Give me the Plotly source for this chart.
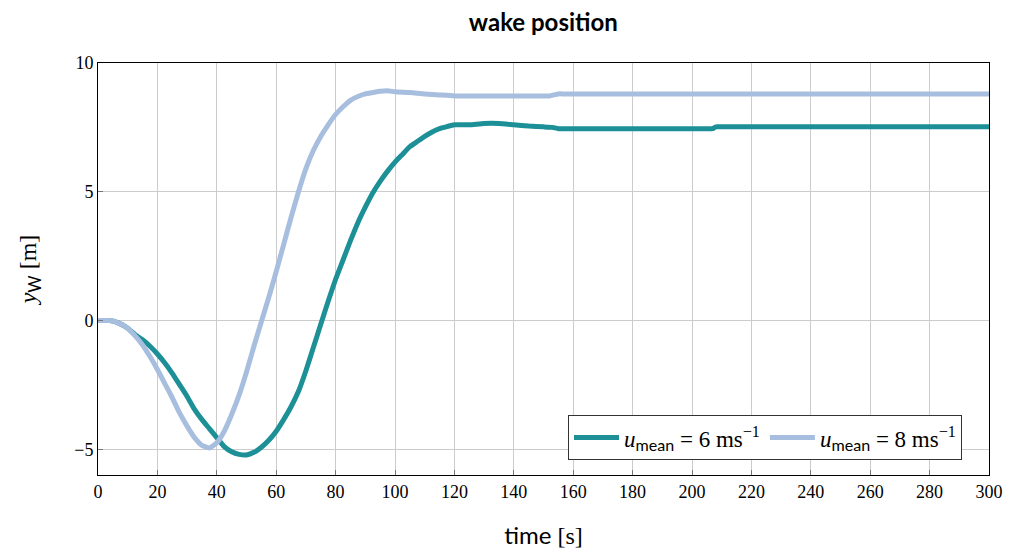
import plotly.graph_objects as go

# Wake lateral position over time for two mean wind speeds
t_6 = [0, 4, 7, 10, 12.5, 15, 17.5, 20, 22.5, 25, 27.5, 30, 32.5, 35, 37.5, 40,
       42.5, 45, 47.5, 50, 52.5, 55, 57.5, 60, 62.5, 65, 67.5, 70, 72.5, 75,
       77.5, 80, 82.5, 85, 87.5, 90, 92.5, 95, 97.5, 100, 102.5, 105, 107.5,
       110, 112.5, 115, 117.5, 120, 125, 130, 135, 140, 145, 150, 153, 155,
       160, 180, 200, 206, 207, 208, 210, 240, 270, 300]
y_6 = [0, 0.0, -0.1, -0.3, -0.55, -0.75, -1.0, -1.3, -1.65, -2.05, -2.5, -2.95,
       -3.45, -3.85, -4.2, -4.55, -4.9, -5.1, -5.2, -5.22, -5.12, -4.92, -4.65,
       -4.3, -3.85, -3.35, -2.75, -1.95, -1.05, -0.15, 0.75, 1.6, 2.35, 3.1, 3.8,
       4.4, 4.95, 5.4, 5.8, 6.15, 6.45, 6.75, 6.95, 7.15, 7.32, 7.45, 7.53,
       7.6, 7.6, 7.65, 7.65, 7.6, 7.55, 7.52, 7.5, 7.45,
       7.45, 7.45, 7.45, 7.45, 7.45, 7.52, 7.52, 7.52, 7.52, 7.52]

t_8 = [0, 4, 7, 10, 12.5, 15, 17.5, 20, 22.5, 25, 27.5, 30, 32.5, 35, 37.5, 40,
       42.5, 45, 47.5, 50, 52.5, 55, 57.5, 60, 62.5, 65, 67.5, 70, 72.5, 75,
       77.5, 80, 82.5, 85, 87.5, 90, 92.5, 95, 97.5, 100, 105, 110, 115, 120,
       130, 140, 150, 152, 155, 157, 180, 220, 260, 300]
y_8 = [0, 0.0, -0.1, -0.3, -0.6, -0.95, -1.4, -1.9, -2.45, -3.0, -3.6, -4.1,
       -4.55, -4.85, -4.95, -4.75, -4.3, -3.65, -2.9, -2.0, -1.0, -0.05, 0.9,
       1.9, 2.95, 4.0, 5.0, 5.9, 6.6, 7.15, 7.6, 8.0, 8.3, 8.55, 8.7, 8.8,
       8.85, 8.9, 8.92, 8.88, 8.85, 8.8, 8.76, 8.72,
       8.72, 8.72, 8.72, 8.72, 8.8, 8.8, 8.8, 8.8, 8.8, 8.8]

x_ticks = list(range(0, 301, 20))
y_ticks = [-5, 0, 5, 10]

TEAL = "#1c9096"
LIGHT = "#a7bedf"
GRID = "#cccccc"
SERIF = "Liberation Serif, DejaVu Serif, serif"
SANS = "Lato, Open Sans, sans-serif"

fig = go.Figure()
fig.add_trace(go.Scatter(
    x=t_6, y=y_6, mode="lines",
    line=dict(color=TEAL, width=5, shape="spline", smoothing=0.4),
    name="<i>u</i><sub><span style='font-family:Lato'>mean</span></sub> = 6 ms<sup>−1</sup>",
))
fig.add_trace(go.Scatter(
    x=t_8, y=y_8, mode="lines",
    line=dict(color=LIGHT, width=5, shape="spline", smoothing=0.4),
    name="<i>u</i><sub><span style='font-family:Lato'>mean</span></sub> = 8 ms<sup>−1</sup>",
))

fig.update_layout(
    width=1009, height=554,
    margin=dict(l=98, r=20, t=63, b=79, autoexpand=False),
    paper_bgcolor="white", plot_bgcolor="white",
    title=dict(text="<b>wake position</b>", x=0.5385, xanchor="center",
               y=0.96, yanchor="middle",
               font=dict(family=SANS, size=24, color="black")),
    font=dict(family=SERIF, size=18, color="black"),
    legend=dict(
        x=0.9697, xanchor="right", y=0.036, yanchor="bottom",
        orientation="h", bgcolor="white",
        bordercolor="#333333", borderwidth=1,
        font=dict(family=SERIF, size=23, color="black"),
        itemwidth=45,
    ),
    showlegend=True,
)

fig.update_xaxes(
    range=[0, 300], tickvals=x_ticks, ticktext=[str(v) for v in x_ticks],
    showgrid=True, gridcolor=GRID, gridwidth=1,
    showline=True, linecolor="black", linewidth=1, mirror=True,
    ticks="inside", ticklen=5, tickcolor="#777777",
    zeroline=False, automargin=False,
    tickfont=dict(family=SERIF, size=18),
    title=dict(text="<span style='font-family:Lato'>time</span> [s]",
               font=dict(family=SERIF, size=24), standoff=26),
)
fig.update_yaxes(
    range=[-6, 10], tickvals=y_ticks, ticktext=["−5", "0", "5", "10"],
    showgrid=True, gridcolor=GRID, gridwidth=1,
    showline=True, linecolor="black", linewidth=1, mirror=True,
    ticks="inside", ticklen=5, tickcolor="#777777",
    zeroline=False, automargin=False,
    tickfont=dict(family=SERIF, size=18),
    title=dict(text="<i>y</i><sub><span style='font-family:Lato'>W</span></sub> [m]",
               font=dict(family=SERIF, size=24), standoff=30),
)

fig.write_html("out.html")
